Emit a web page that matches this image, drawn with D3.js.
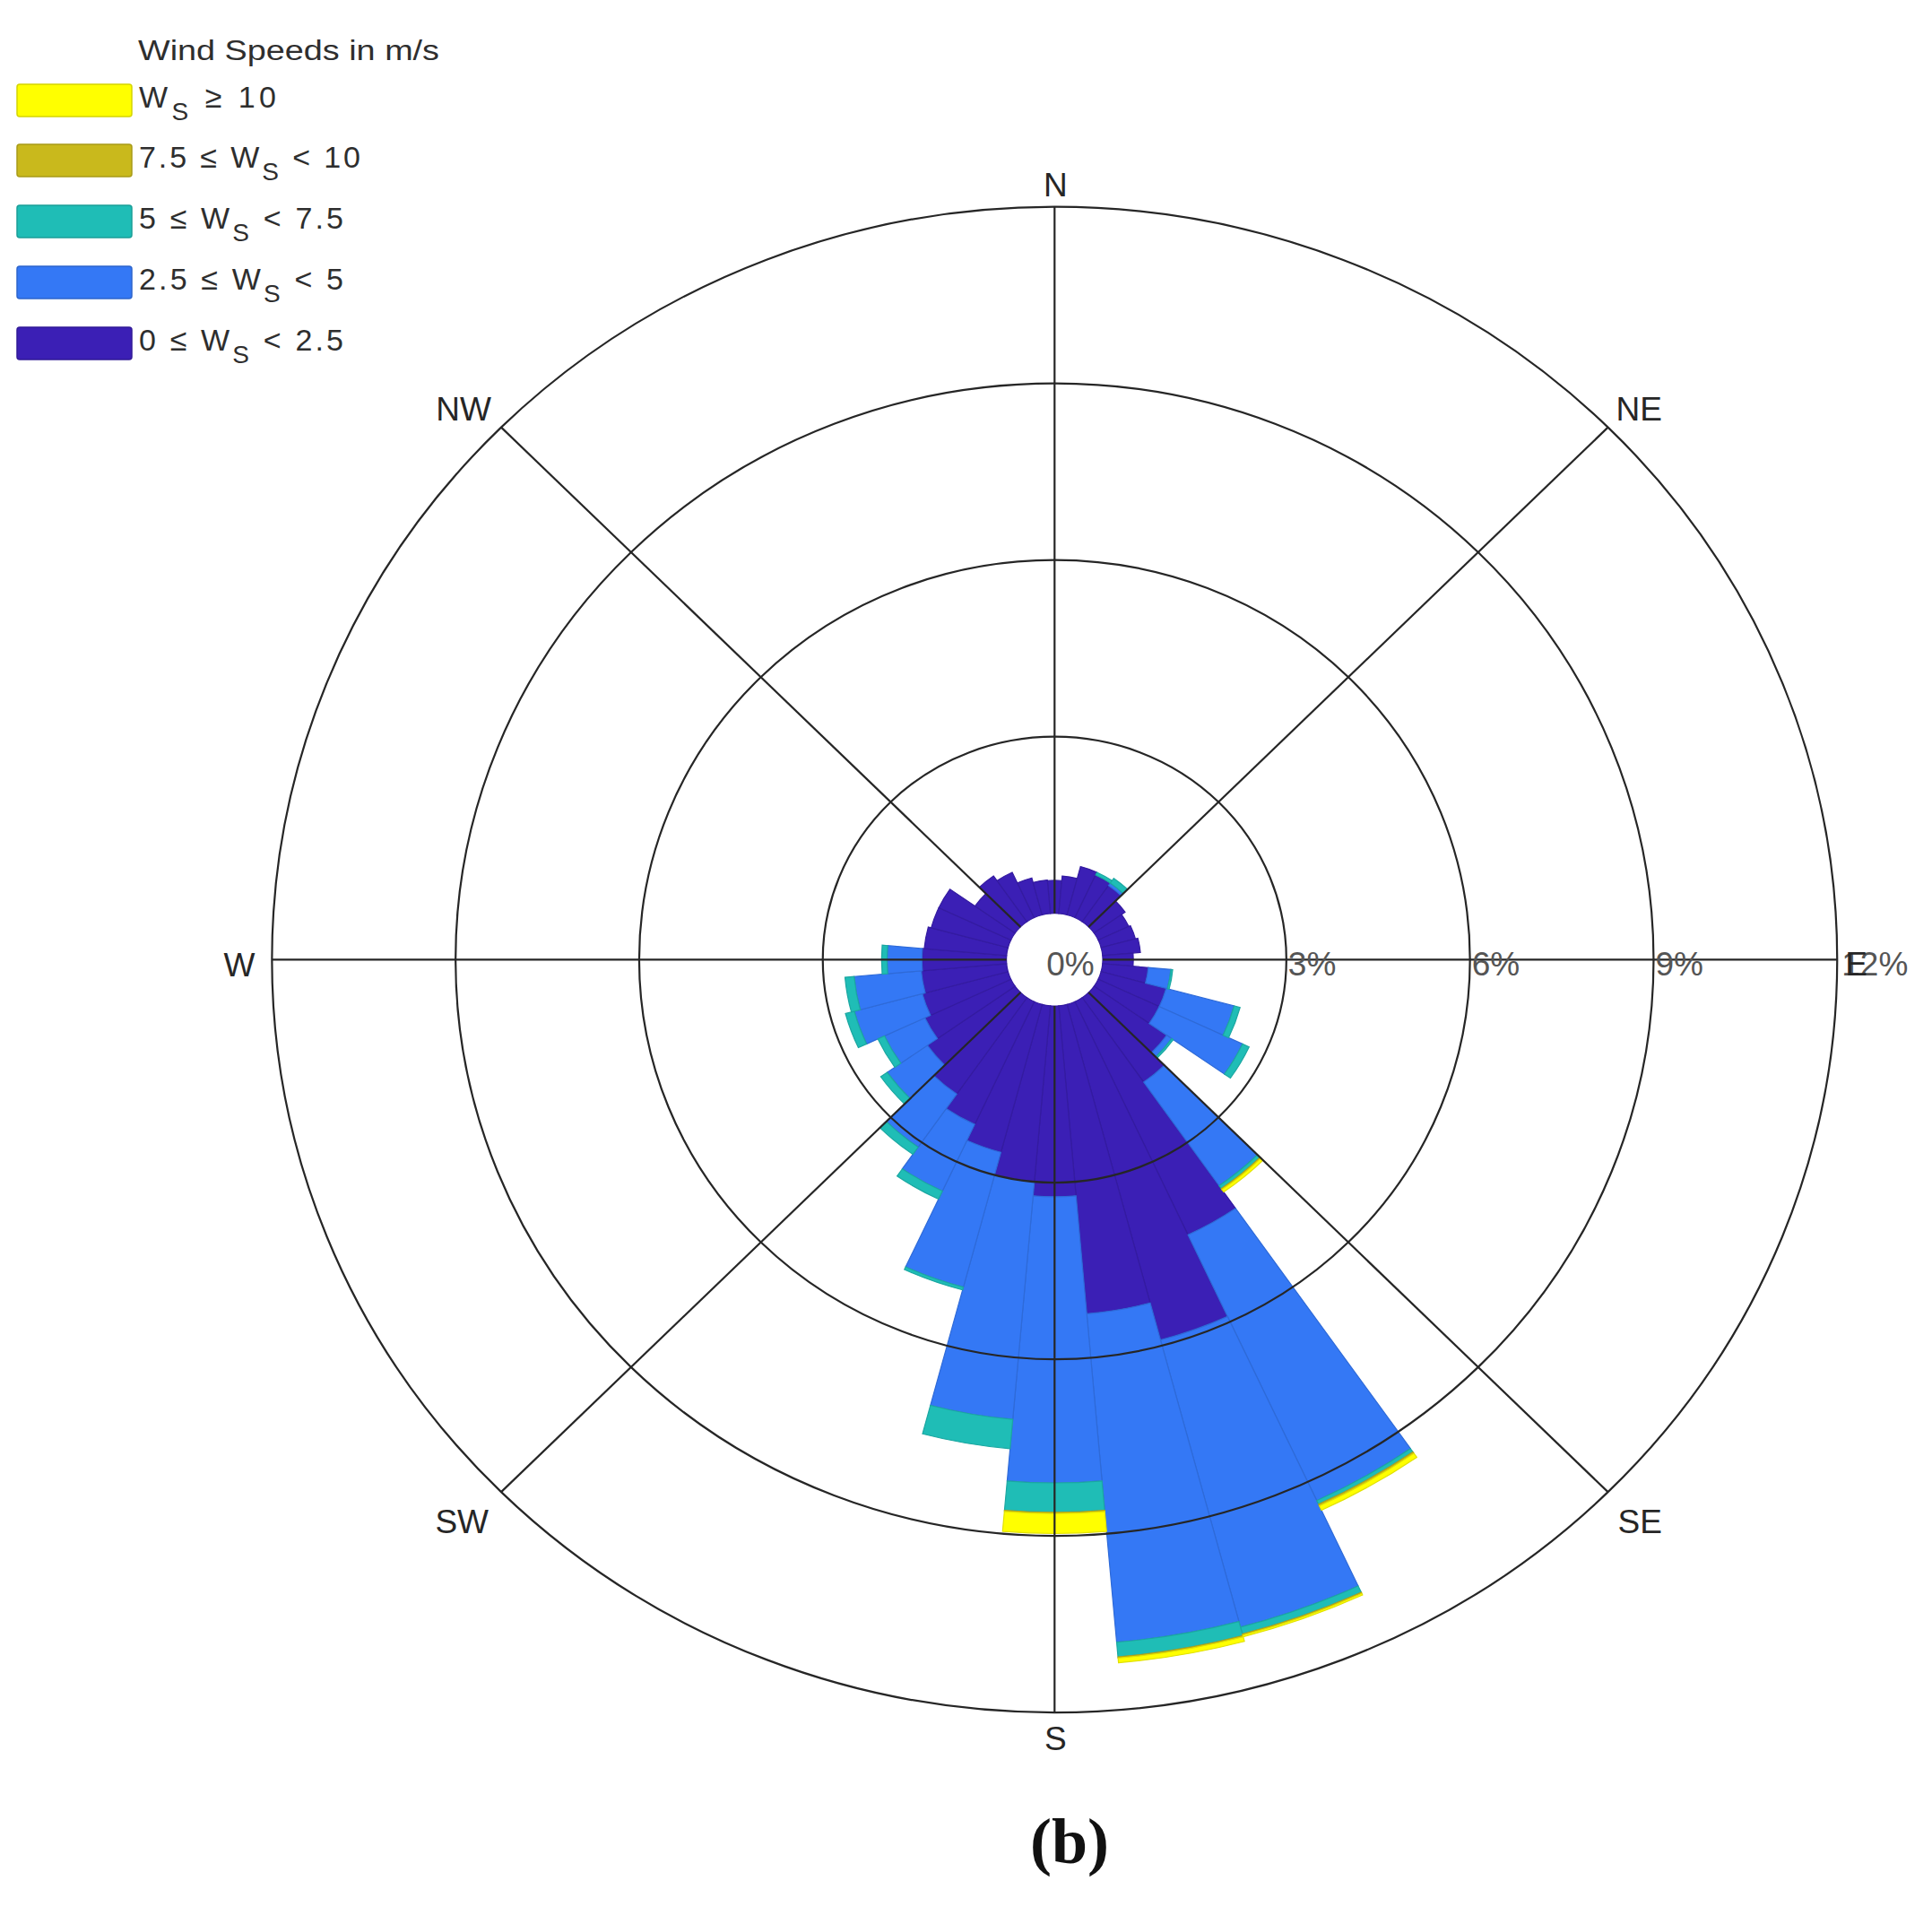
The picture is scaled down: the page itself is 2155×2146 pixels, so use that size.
<!DOCTYPE html>
<html>
<head>
<meta charset="utf-8">
<script src="https://cdn.jsdelivr.net/npm/d3@7"></script>
<style>
  html, body { margin: 0; padding: 0; background: #ffffff; }
  svg { display: block; }
</style>
</head>
<body>
<svg id="chart" width="2155" height="2146"></svg>
<script>
// ---------------- DATA ----------------
const directions = [0,10,20,30,40,50,60,70,80,90,100,110,120,130,140,150,160,170,
                    180,190,200,210,220,230,240,250,260,270,280,290,300,310,320,330,340,350];
// frequency (%) of each speed class per direction bin
const ws0to25  = [0.56,0.64,0.85,0.80,0.75,0.62,0.55,0.58,0.62,0.50,0.75,1.10,1.10,1.45,1.75,4.37,5.90,5.25,
                  3.24,3.00,2.60,2.30,2.00,1.75,1.55,1.45,1.40,1.38,1.35,1.30,1.30,0.80,0.95,0.85,0.65,0.57];
const ws25to5  = [0,0,0,0,0.05,0,0,0,0,0,0.37,1.15,1.50,0.10,2.15,4.98,5.05,5.60,
                  4.86,4.05,2.37,1.25,1.10,0.80,0.73,1.15,1.10,0.57,0,0,0,0,0,0,0,0];
const ws5to75  = [0,0,0,0.05,0.10,0,0,0,0,0,0.03,0.10,0.12,0.03,0.06,0.07,0.12,0.25,
                  0.50,0.50,0.05,0.15,0.15,0.13,0.12,0.15,0.15,0.09,0,0,0,0,0,0,0,0];
const ws75to10 = [0,0,0,0,0,0,0,0,0,0,0,0,0,0,0.02,0.03,0.02,0.02,
                  0.02,0,0,0,0,0,0,0,0,0,0,0,0,0,0,0,0,0];
const ws10up   = [0,0,0,0,0,0,0,0,0,0,0,0,0,0,0.05,0.08,0.03,0.08,
                  0.34,0,0,0,0,0,0,0,0,0,0,0,0,0,0,0,0,0];
const classLabels = ["0 \u2264 W_S < 2.5", "2.5 \u2264 W_S < 5", "5 \u2264 W_S < 7.5", "7.5 \u2264 W_S < 10", "W_S \u2265 10"];
const classColors = ["#3b1fb5", "#3478f5", "#1fbdb6", "#c9b91c", "#ffff00"];
const ringTicks = [3, 6, 9, 12];
const ringLabels = ["0%", "3%", "6%", "9%", "12%"];
const compassLabels = ["N","NE","E","SE","S","SW","W","NW"];
const legendTitle = "Wind Speeds in m/s";
const figLabel = "(b)";

// ---------------- LAYOUT ----------------
const svg = d3.select("#chart");
const cx = 1176.3, cy = 1070.4;
const sx = 1.0396;              // horizontal stretch of the polar plot
const r = d3.scaleLinear().domain([0, 12]).range([51.7, 839.7]);
const seriesAll = [ws0to25, ws25to5, ws5to75, ws75to10, ws10up];

// stacked data
const rows = directions.map((d, i) => {
  const o = { dir: d };
  seriesAll.forEach((s, k) => { o["c" + k] = s[i]; });
  return o;
});
const stack = d3.stack().keys(["c0","c1","c2","c3","c4"])(rows);

const plot = svg.append("g").attr("transform", `translate(${cx},${cy}) scale(${sx},1)`);
const binW = 10 * Math.PI / 180;
const arc = d3.arc();

stack.forEach((layer, k) => {
  plot.append("g").selectAll("path")
    .data(layer.filter(d => d[1] - d[0] > 0))
    .join("path")
    .attr("d", d => arc({
      innerRadius: r(d[0]), outerRadius: r(d[1]),
      startAngle: d.data.dir * Math.PI / 180 - binW / 2,
      endAngle: d.data.dir * Math.PI / 180 + binW / 2
    }))
    .attr("fill", classColors[k])
    .attr("stroke", d3.color(classColors[k]).darker(0.35))
    .attr("stroke-width", 1.2)
    .attr("vector-effect", "non-scaling-stroke");
});

// rings
ringTicks.forEach(t => {
  plot.append("circle").attr("r", r(t))
    .attr("fill", "none").attr("stroke", "#262626").attr("stroke-width", 2.2)
    .attr("vector-effect", "non-scaling-stroke");
});
// spokes
d3.range(0, 360, 45).forEach(a => {
  const rad = a * Math.PI / 180;
  plot.append("line")
    .attr("x1", r(0) * Math.sin(rad)).attr("y1", -r(0) * Math.cos(rad))
    .attr("x2", r(12) * Math.sin(rad)).attr("y2", -r(12) * Math.cos(rad))
    .attr("stroke", "#262626").attr("stroke-width", 2.2)
    .attr("vector-effect", "non-scaling-stroke");
});

// ring labels
const lab = svg.append("g").attr("font-family", "'Liberation Sans', Arial, sans-serif")
  .attr("font-size", 37).attr("fill", "#555");
lab.append("text").attr("x", cx - 9).attr("y", cy + 18).text(ringLabels[0]);
ringTicks.forEach((t, i) => {
  lab.append("text").attr("x", cx + sx * r(t) + (t === 12 ? 5 : 2)).attr("y", cy + 18).text(ringLabels[i + 1]);
});

// compass labels
const R = r(12);
const cl = svg.append("g").attr("font-family", "'Liberation Sans', Arial, sans-serif")
  .attr("font-size", 37).attr("fill", "#262626");
const d45 = Math.SQRT1_2;
const compassPos = {
  "N":  { x: cx + 1, y: cy - R - 12, a: "middle" },
  "S":  { x: cx + 1, y: cy + R + 42, a: "middle" },
  "W":  { x: cx - sx * R - 19, y: cy + 19, a: "end" },
  "E":  { x: cx + sx * R + 9, y: cy + 18, a: "start" },
  "NE": { x: cx + sx * R * d45 + 9, y: cy - R * d45 - 8, a: "start" },
  "NW": { x: cx - sx * R * d45 - 11, y: cy - R * d45 - 8, a: "end" },
  "SE": { x: cx + sx * R * d45 + 11, y: cy + R * d45 + 46, a: "start" },
  "SW": { x: cx - sx * R * d45 - 14, y: cy + R * d45 + 46, a: "end" }
};
compassLabels.forEach(c => {
  const p = compassPos[c];
  cl.append("text").attr("x", p.x).attr("y", p.y).attr("text-anchor", p.a).text(c);
});

// ---------------- LEGEND ----------------
const lg = svg.append("g").attr("font-family", "'Liberation Sans', Arial, sans-serif").attr("fill", "#2e2e2e");
lg.append("text").attr("x", 154).attr("y", 67).attr("font-size", 31)
  .attr("textLength", 336).attr("lengthAdjust", "spacingAndGlyphs").text(legendTitle);
const legendOrder = [4, 3, 2, 1, 0];
const swY = [94, 161, 229, 297, 365];
const txtLen = [153, 247, 228, 228, 228];
legendOrder.forEach((k, i) => {
  lg.append("rect").attr("x", 19).attr("y", swY[i]).attr("width", 128).attr("height", 36)
    .attr("rx", 3)
    .attr("fill", classColors[k]).attr("stroke", d3.color(classColors[k]).darker(0.5)).attr("stroke-width", 1.5);
  const parts = classLabels[k].split("W_S");
  const t = lg.append("text").attr("x", 155).attr("y", swY[i] + 26).attr("font-size", 34)
    .attr("textLength", txtLen[i]).attr("lengthAdjust", "spacing");
  t.append("tspan").text(parts[0] + "W");
  t.append("tspan").attr("dy", 14).attr("font-size", 28).text("S");
  t.append("tspan").attr("dy", -14).text(parts[1]);
});

// figure label
svg.append("text").attr("x", 1193).attr("y", 2078).attr("text-anchor", "middle")
  .attr("font-family", "'Liberation Serif', 'Times New Roman', serif").attr("font-weight", "bold")
  .attr("font-size", 72).attr("fill", "#111").text(figLabel);
</script>
</body>
</html>
